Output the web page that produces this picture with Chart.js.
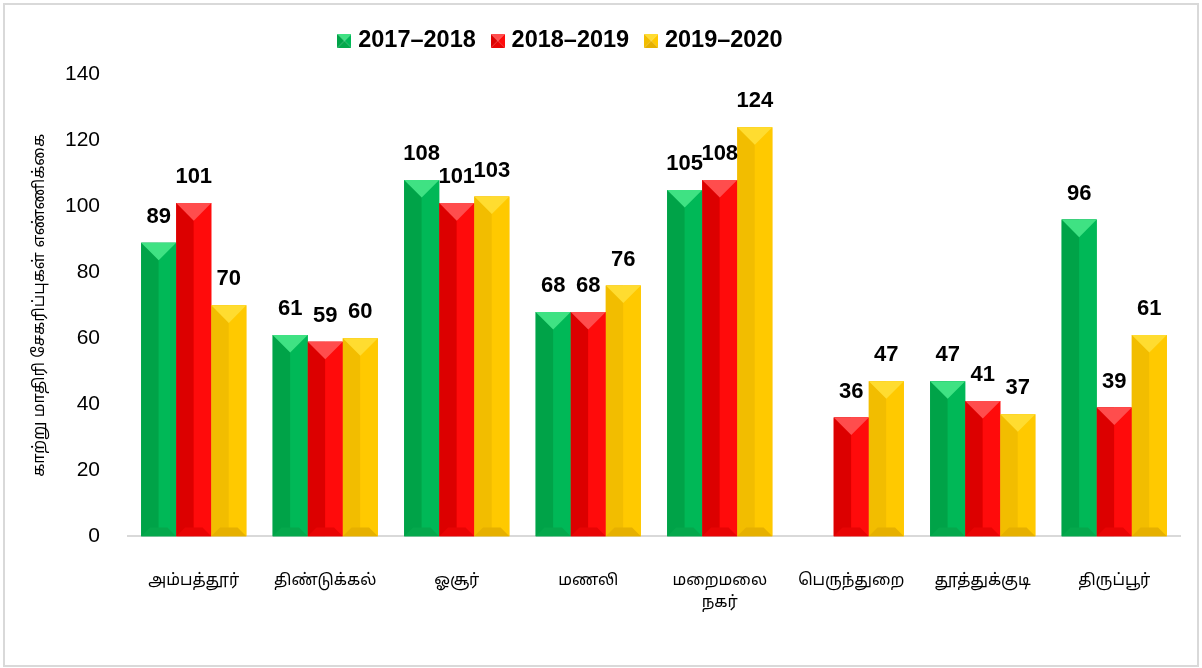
<!DOCTYPE html>
<html lang="ta">
<head>
  <meta charset="UTF-8">
  <title>காற்று மாதிரி சேகரிப்புகள்</title>
  <script src="https://cdn.jsdelivr.net/npm/chart.js@4.4.1/dist/chart.umd.min.js"></script>
  <style>
    body { margin: 0; background: #fff; }
    #frame { position: absolute; left: 3px; top: 3px; width: 1192px; height: 660px; border: 2px solid #d9d9d9; }
  </style>
</head>
<body>
  <div id="frame"><canvas id="chart" width="1192" height="660"></canvas></div>

  <script>
    const places = ['அம்பத்தூர்', 'திண்டுக்கல்', 'ஓசூர்', 'மணலி', ['மறைமலை', 'நகர்'], 'பெருந்துறை', 'தூத்துக்குடி', 'திருப்பூர்'];
    const y2017 = [89, 61, 108, 68, 105, null, 47, 96];
    const y2018 = [101, 59, 101, 68, 108, 36, 41, 39];
    const y2019 = [70, 60, 103, 76, 124, 47, 37, 61];
    const seriesNames = ['2017–2018', '2018–2019', '2019–2020'];
    const yTicks = [0, 20, 40, 60, 80, 100, 120, 140];

    const FONT = "'Liberation Sans', Arial, 'Noto Sans Tamil', sans-serif";

    // bevel shades: top, left, right, bottom
    const shades = [
      { base: '#00b050', top: '#3fe283', left: '#00a348', right: '#00b857', bottom: '#05a84c' },
      { base: '#ff0000', top: '#ff4d4d', left: '#dc0000', right: '#ff0b0b', bottom: '#e80404' },
      { base: '#ffc000', top: '#ffdc30', left: '#f2bd00', right: '#ffc900', bottom: '#e6b000' }
    ];

    function poly(ctx, pts, col) {
      ctx.beginPath();
      ctx.moveTo(pts[0][0], pts[0][1]);
      pts.slice(1).forEach(p => ctx.lineTo(p[0], p[1]));
      ctx.closePath();
      ctx.fillStyle = col;
      ctx.fill();
    }

    function bevel(ctx, l, t, r, b, s) {
      const w = r - l, h = b - t;
      const d = Math.min(w / 2, h / 2);
      const cx = (l + r) / 2;
      const e = Math.min(d * 0.5, h / 4);
      poly(ctx, [[l, t], [cx, t], [cx, b], [l, b]], s.left);
      poly(ctx, [[cx, t], [r, t], [r, b], [cx, b]], s.right);
      poly(ctx, [[l, t], [r, t], [cx, t + d]], s.top);
      poly(ctx, [[l, b], [l + e, b - e], [r - e, b - e], [r, b]], s.bottom);
    }

    function legendIcon(s) {
      const c = document.createElement('canvas');
      c.width = 14; c.height = 14;
      const x = c.getContext('2d');
      poly(x, [[0, 0], [0, 14], [7, 7]], s.left);
      poly(x, [[14, 0], [14, 14], [7, 7]], s.right);
      poly(x, [[0, 0], [14, 0], [7, 7]], s.top);
      poly(x, [[0, 14], [14, 14], [7, 7]], s.bottom);
      return c;
    }

    const bevelPlugin = {
      id: 'bevel',
      beforeInit(chart) {
        const fit = chart.legend.fit;
        chart.legend.fit = function () {
          fit.call(this);
          this.height += 12;
        };
      },
      afterLayout(chart) {
        chart.legend.left -= 30;
        chart.legend.right -= 30;
      },
      afterDatasetsDraw(chart) {
        const ctx = chart.ctx;
        ctx.save();
        chart.data.datasets.forEach((ds, i) => {
          chart.getDatasetMeta(i).data.forEach((bar, j) => {
            if (ds.data[j] == null) return;
            const p = bar.getProps(['x', 'y', 'base', 'width'], true);
            bevel(ctx, p.x - p.width / 2, p.y, p.x + p.width / 2, p.base, shades[i]);
          });
        });
        ctx.font = 'bold 22px ' + FONT;
        ctx.fillStyle = '#000';
        ctx.textAlign = 'center';
        ctx.textBaseline = 'bottom';
        chart.data.datasets.forEach((ds, i) => {
          chart.getDatasetMeta(i).data.forEach((bar, j) => {
            if (ds.data[j] == null) return;
            const p = bar.getProps(['x', 'y'], true);
            ctx.fillText(String(ds.data[j]), p.x, p.y - 15);
          });
        });
        ctx.restore();
      }
    };

    const datasets = [y2017, y2018, y2019].map((vals, i) => ({
      label: seriesNames[i],
      data: vals,
      backgroundColor: shades[i].base,
      borderWidth: 0,
      pointStyle: legendIcon(shades[i]),
      categoryPercentage: 0.8,
      barPercentage: 1.0
    }));

    new Chart(document.getElementById('chart'), {
      type: 'bar',
      data: { labels: places, datasets },
      plugins: [bevelPlugin],
      options: {
        responsive: false,
        animation: false,
        layout: { padding: { left: 0, right: 17, top: 4, bottom: 18 } },
        plugins: {
          tooltip: { enabled: false },
          legend: {
            position: 'top',
            labels: {
              usePointStyle: true,
              pointStyleWidth: 4,
              color: '#000',
              font: { family: FONT, size: 23.5, weight: 'bold' },
              padding: 20,
              boxHeight: 14
            }
          }
        },
        scales: {
          x: {
            grid: { display: false, drawTicks: false },
            border: { color: '#d9d9d9', width: 2 },
            ticks: { color: '#000', font: { family: FONT, size: 16, lineHeight: 1.4 }, padding: 33, maxRotation: 0, autoSkip: false }
          },
          y: {
            min: 0,
            max: 140,
            afterBuildTicks: axis => { axis.ticks = yTicks.map(v => ({ value: v })); },
            afterFit: axis => { axis.width = 123; },
            grid: { display: false, drawTicks: false },
            border: { display: false },
            ticks: { color: '#000', font: { family: FONT, size: 21 }, padding: 28 },
            title: {
              display: true,
              text: 'காற்று மாதிரி சேகரிப்புகள் எண்ணிக்கை',
              color: '#000',
              font: { family: FONT, size: 16 },
              padding: { top: 25, bottom: 0 }
            }
          }
        }
      }
    });
  </script>
</body>
</html>
